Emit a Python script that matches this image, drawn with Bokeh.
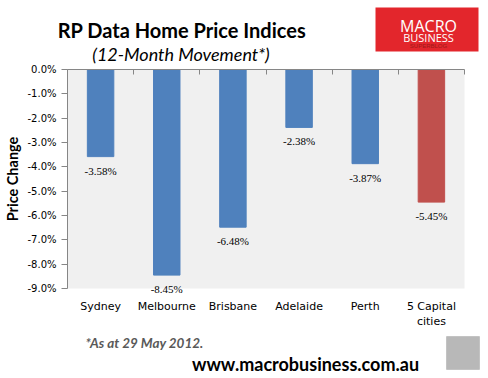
from bokeh.plotting import figure
from bokeh.models import (ColumnDataSource, LinearAxis, Range1d, FixedTicker,
                          PrintfTickFormatter, LabelSet, Label, BoxAnnotation)
from bokeh.embed import file_html
from bokeh.resources import INLINE

# ---- data ----
categories = ["Sydney", "Melbourne", "Brisbane", "Adelaide", "Perth", "5 Capital cities"]
tick_labels = ["Sydney", "Melbourne", "Brisbane", "Adelaide", "Perth", "5 Capital\ncities"]
changes = [-3.58, -8.45, -6.48, -2.38, -3.87, -5.45]
bar_colors = ["#4F81BD", "#4F81BD", "#4F81BD", "#4F81BD", "#4F81BD", "#C0504D"]
y_ticks = [0, -1, -2, -3, -4, -5, -6, -7, -8, -9]
y_min, y_max = -9, 0

# ---- layout geometry (pixels) ----
W, H = 488, 378
L, R, T, B = 67, 464, 69, 288   # plot-area edges
n = len(categories)
xs = (R - L) / n
ys = (B - T) / (y_max - y_min)

xpos = [i + 0.5 for i in range(n)]
src = ColumnDataSource(dict(
    x=xpos, cat=categories, val=changes, color=bar_colors,
    txt=[f"{v:.2f}%" for v in changes],
))

p = figure(width=W, height=H, output_backend="svg", toolbar_location=None,
           title_location=None,
           x_range=Range1d(-L / xs, n + (W - R) / xs),
           y_range=Range1d(y_min - (H - B) / ys, y_max + T / ys),
           x_axis_location=None, y_axis_location=None,
           min_border=0)
p.outline_line_color = None
p.background_fill_color = "white"
p.border_fill_color = "white"
p.xgrid.visible = False
p.ygrid.visible = False

# plot-area background
p.add_layout(BoxAnnotation(left=0, right=n, bottom=y_min, top=y_max,
                           fill_color="#f0f0f0", fill_alpha=1, line_color=None,
                           level="underlay"))

p.vbar(x="x", top="val", bottom=0, width=0.4, color="color", source=src)

# y axis
yax = LinearAxis(ticker=FixedTicker(ticks=y_ticks),
                 formatter=PrintfTickFormatter(format="%.1f%%"),
                 fixed_location=0, bounds=(y_min, y_max))
yax.axis_line_color = "#868686"
yax.major_tick_line_color = "#868686"
yax.major_tick_out = 6
yax.major_tick_in = 0
yax.minor_tick_line_color = None
yax.major_label_standoff = 5
yax.major_label_text_font = "DejaVu Sans"
yax.major_label_text_font_size = "10px"
yax.major_label_text_color = "black"
yax.axis_label = "Price Change"
yax.axis_label_text_font = "Lato"
yax.axis_label_text_font_style = "bold"
yax.axis_label_text_font_size = "14.5px"
yax.axis_label_text_color = "black"
yax.axis_label_standoff = 3
p.add_layout(yax, "left")

# category labels
xax = LinearAxis(ticker=FixedTicker(ticks=xpos), fixed_location=y_min,
                 major_label_overrides={x: t for x, t in zip(xpos, tick_labels)})
xax.axis_line_color = None
xax.major_tick_line_color = None
xax.minor_tick_line_color = None
xax.major_label_standoff = 5
xax.major_label_text_font = "DejaVu Sans"
xax.major_label_text_font_size = "11px"
xax.major_label_text_color = "black"
p.add_layout(xax, "below")

# zero line with category separators
tax = LinearAxis(ticker=FixedTicker(ticks=list(range(n + 1))), fixed_location=0,
                 bounds=(0, n))
tax.axis_line_color = "#868686"
tax.major_tick_line_color = "#868686"
tax.major_tick_in = 5
tax.major_tick_out = 0
tax.minor_tick_line_color = None
tax.major_label_text_color = None
tax.major_label_text_font_size = "1px"
p.add_layout(tax, "above")

# data labels
p.add_layout(LabelSet(x="x", y="val", text="txt", source=src, y_offset=-8,
                      text_align="center", text_baseline="top",
                      text_font="DejaVu Sans", text_font_size="11px",
                      text_color="black"))

def lab(x, y, text, **kw):
    p.add_layout(Label(x=x, y=H - y, x_units="screen", y_units="screen",
                       text=text, text_baseline="alphabetic", **kw))

def box(x0, x1, y0, y1, **kw):
    p.add_layout(BoxAnnotation(left=x0, right=x1, top=H - y0, bottom=H - y1,
                               left_units="screen", right_units="screen",
                               top_units="screen", bottom_units="screen",
                               fill_alpha=1, **kw))

# titles
lab(181.5, 29, "RP Data Home Price Indices", text_align="center",
    text_font="Lato", text_font_style="bold", text_font_size="20px",
    text_color="black")
lab(180.5, 53, "(12-Month Movement*)", text_align="center",
    text_font="Lato", text_font_style="italic", text_font_size="18px",
    text_color="black")

# footer
lab(85, 342, "*As at 29  May 2012.", text_align="left", text_font="Lato",
    text_font_style="bold italic", text_font_size="13.5px", text_color="#595959")
lab(305, 363, "www.macrobusiness.com.au", text_align="center", text_font="Lato",
    text_font_style="bold", text_font_size="18px", text_color="black")

# logo
box(375, 478, 7, 51, fill_color="#e3262c", line_color=None)
lab(428, 25, "MACRO", text_align="center", text_font="Open Sans",
    text_font_size="16px", text_color="white")
lab(428, 37, "BUSINESS", text_align="center", text_font="Open Sans",
    text_font_size="11px", text_color="white")
lab(428, 45, "SUPERBLOG", text_align="center", text_font="Liberation Sans",
    text_font_size="6px", text_color="#9e1a1a")

# wolf badge
box(446, 479, 336, 369, fill_color="#b8b8b8", line_color="#8a8a8a", line_width=1)

open("out.html", "w").write(file_html(p, INLINE))
